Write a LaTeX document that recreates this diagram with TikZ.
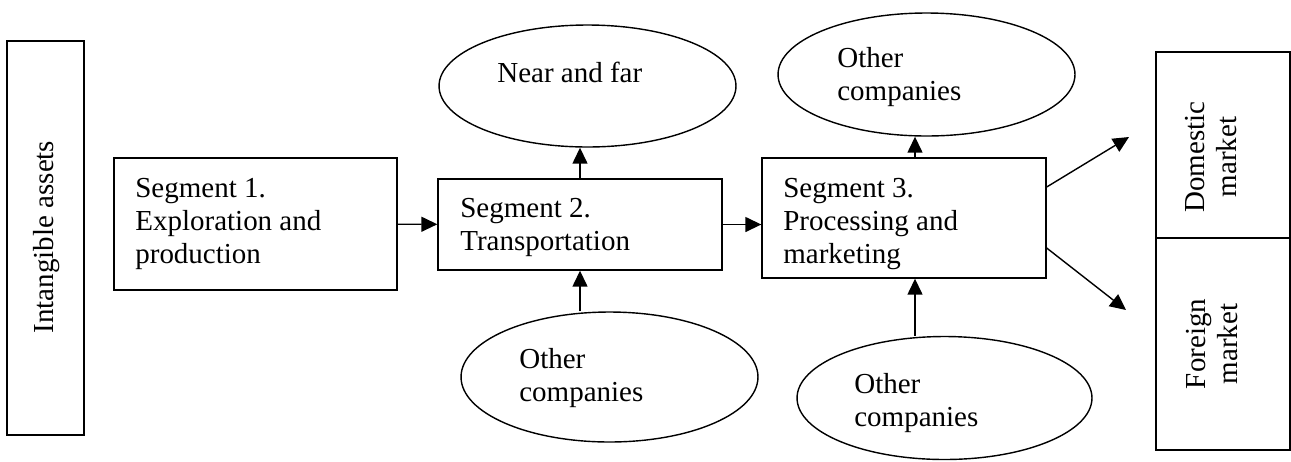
\documentclass[tikz,border=0pt]{standalone}
\usepackage{fontspec}
\setmainfont{Liberation Serif}
\usetikzlibrary{shapes.geometric,arrows.meta}

\tikzset{
  box/.style={draw, line width=0.8pt, rectangle, inner sep=0pt},
  oval/.style={draw, line width=0.8pt, ellipse, inner sep=0pt},
  txt/.style={inner sep=0pt, align=left, anchor=north west},
  arr/.style={line width=0.8pt, -{Triangle[length=0.32cm,width=0.30cm]}}
}

\begin{document}
\begin{tikzpicture}[x=0.02cm, y=-0.02cm, font=\fontsize{16.5}{18.7}\selectfont]

	\useasboundingbox (0,0) rectangle (1291,461);

	% left bar
	\node[box, minimum width=1.54cm, minimum height=7.88cm] (assets) at (45.5,238) {};
	\node[rotate=90, inner sep=0pt] (assetstxt) at (46.5,237) {Intangible assets};

	% segments
	\node[box, minimum width=5.66cm, minimum height=2.64cm] (s1) at (255.5,224) {};
	\node[txt] (s1txt) at (135,178) {Segment 1.\\Exploration and\\production};

	\node[box, minimum width=5.68cm, minimum height=1.82cm] (s2) at (580,224.5) {};
	\node[txt] (s2txt) at (460,198) {Segment 2.\\Transportation};

	\node[box, minimum width=5.68cm, minimum height=2.40cm] (s3) at (904,218) {};
	\node[txt] (s3txt) at (783,178) {Segment 3.\\Processing and\\marketing};

	% ovals
	\node[oval, minimum width=5.94cm, minimum height=2.44cm] (near) at (587.5,86) {};
	\node[txt] (neartxt) at (497,62) {Near and far};

	\node[oval, minimum width=5.94cm, minimum height=2.46cm] (o3t) at (926.5,74.5) {};
	\node[txt] (o3ttxt) at (837,47) {Other\\companies};

	\node[oval, minimum width=5.94cm, minimum height=2.60cm] (o2) at (609.5,377) {};
	\node[txt] (o2txt) at (519,348) {Other\\companies};

	\node[oval, minimum width=5.90cm, minimum height=2.46cm] (o3b) at (944.5,398) {};
	\node[txt] (o3btxt) at (854,373) {Other\\companies};

	% markets
	\node[box, minimum width=2.68cm, minimum height=3.72cm] (dom) at (1223,145) {};
	\node[box, minimum width=2.68cm, minimum height=4.24cm] (for) at (1223,344) {};
	\node[rotate=90, inner sep=0pt, align=center] (domtxt) at (1211,157) {Domestic\\market};
	\node[rotate=90, inner sep=0pt, align=center] (fortxt) at (1212,344) {Foreign\\market};

	\coordinate (domend) at (1129,137);
	\coordinate (forend) at (1126,310);

	% flows
	\draw[arr] (s1) -- (s2);
	\draw[arr] (s2.east) -- (s2.east -| s3.west);
	\draw[arr] (s2.north) -- (s2.north |- near.south);
	\draw[arr] (s2.south |- o2.north) -- (s2.south);
	\draw[arr] ([xshift=0.22cm]s3.north) -- ([xshift=0.22cm]s3.north |- o3t.south);
	\draw[arr] ([xshift=0.22cm]s3.south |- o3b.north) -- ([xshift=0.22cm]s3.south);
	\draw[arr] ([yshift=0.62cm]s3.east) -- (domend);
	\draw[arr] ([yshift=-0.60cm]s3.east) -- (forend);

\end{tikzpicture}
\end{document}
